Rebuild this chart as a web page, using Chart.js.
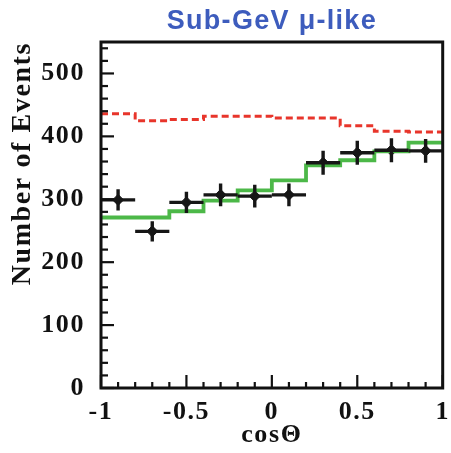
<!DOCTYPE html>
<html><head><meta charset="utf-8">
<script src="https://cdn.jsdelivr.net/npm/chart.js@4/dist/chart.umd.min.js"></script>
<style>html,body{margin:0;padding:0;background:#fff;}#wrap{width:451px;height:453px;position:relative;}</style>
</head><body><div id="wrap"><canvas id="c" width="451" height="453" style="width:451px;height:453px"></canvas></div>
<script>
const chartTitle = 'Sub-GeV \u03bc-like';
const binEdges = [-1, -0.8, -0.6, -0.4, -0.2, 0, 0.2, 0.4, 0.6, 0.8, 1];
const dataEvents = [299, 249, 295, 307, 305, 307, 358, 374, 378, 377];
const dataErrors = [17, 16, 17, 18, 18, 18, 19, 19, 19, 19];
const mcOscillated = [271, 271, 281, 298, 314, 330, 354, 362, 376, 390];
const mcNoOscillation = [436, 425, 427, 432, 432, 429, 429, 417, 408, 407];
const yTickValues = [0, 100, 200, 300, 400, 500];
const xTickValues = [-1, -0.5, 0, 0.5, 1];
const yMinorTicks = [0,20,40,60,80,100,120,140,160,180,200,220,240,260,280,300,320,340,360,380,400,420,440,460,480,500,520,540];
const xMinorTicks = [-1,-0.9,-0.8,-0.7,-0.6,-0.5,-0.4,-0.3,-0.2,-0.1,0,0.1,0.2,0.3,0.4,0.5,0.6,0.7,0.8,0.9,1];

function stepPoints(vals) {
  const pts = [];
  vals.forEach((v, i) => { pts.push({x: binEdges[i], y: v}); pts.push({x: binEdges[i + 1], y: v}); });
  return pts;
}
const centers = dataEvents.map((v, i) => ({x: (binEdges[i] + binEdges[i + 1]) / 2, y: v, err: dataErrors[i], lo: binEdges[i], hi: binEdges[i + 1]}));

const spacing = {
  id: 'spacing',
  beforeLayout(chart) { chart.ctx.letterSpacing = '1.6px'; },
  beforeDraw(chart) { chart.ctx.letterSpacing = '1.6px'; }
};

const errorBars = {
  id: 'errorBars',
  afterDatasetsDraw(chart) {
    const {ctx, scales: {x, y}} = chart;
    ctx.save();
    ctx.setLineDash([]);
    ctx.strokeStyle = '#161616';
    ctx.lineWidth = 3.4;
    centers.forEach(p => {
      ctx.beginPath();
      ctx.moveTo(x.getPixelForValue(p.lo), y.getPixelForValue(p.y));
      ctx.lineTo(x.getPixelForValue(p.hi), y.getPixelForValue(p.y));
      ctx.moveTo(x.getPixelForValue(p.x), y.getPixelForValue(p.y - p.err));
      ctx.lineTo(x.getPixelForValue(p.x), y.getPixelForValue(p.y + p.err));
      ctx.stroke();
    });
    ctx.restore();
  }
};

const frame = {
  id: 'frame',
  afterDraw(chart) {
    const ctx = chart.ctx, a = chart.chartArea, x = chart.scales.x, y = chart.scales.y;
    ctx.save();
    ctx.setLineDash([]);
    ctx.strokeStyle = '#111111';
    ctx.lineWidth = 2.2;
    yMinorTicks.forEach(v => {
      const py = y.getPixelForValue(v);
      const len = yTickValues.includes(v) ? 13 : 7;
      ctx.beginPath(); ctx.moveTo(a.left, py); ctx.lineTo(a.left + len, py); ctx.stroke();
    });
    xMinorTicks.forEach(v => {
      const px = x.getPixelForValue(v);
      const len = xTickValues.includes(v) ? 13 : 6;
      ctx.beginPath(); ctx.moveTo(px, a.bottom); ctx.lineTo(px, a.bottom - len); ctx.stroke();
    });
    ctx.lineWidth = 3;
    ctx.strokeRect(a.left, a.top, a.right - a.left, a.bottom - a.top);
    ctx.fillStyle = '#3d5cbd';
    ctx.font = "bold 27px 'Liberation Sans', Arial, sans-serif";
    ctx.textAlign = 'center';
    ctx.textBaseline = 'middle';
    ctx.letterSpacing = '1.3px';
    ctx.fillText(chartTitle, (a.left + a.right) / 2, 22);
    ctx.restore();
  }
};

const serif = "'Liberation Serif', 'Times New Roman', serif";
new Chart(document.getElementById('c'), {
  data: {
    datasets: [
      {type: 'line', data: stepPoints(mcNoOscillation), borderColor: '#e8352b', borderWidth: 3, borderDash: [7, 4], pointRadius: 0, fill: false},
      {type: 'line', data: stepPoints(mcOscillated), borderColor: '#4cb848', borderWidth: 3.8, pointRadius: 0, fill: false},
      {type: 'scatter', data: centers, pointStyle: 'rectRot', pointRadius: 5.5, backgroundColor: '#161616', borderColor: '#161616', borderWidth: 1}
    ]
  },
  options: {
    responsive: false,
    animation: false,
    devicePixelRatio: 1,
    layout: {padding: {left: 0, right: 8, top: 42, bottom: 0}},
    plugins: {
      legend: {display: false},
      tooltip: {enabled: false},
      title: {display: false}
    },
    scales: {
      x: {
        type: 'linear', min: -1, max: 1,
        grid: {display: false}, border: {display: false},
        afterBuildTicks: s => { s.ticks = xTickValues.map(v => ({value: v})); },
        afterFit: s => { s.height = 65; },
        ticks: {color: '#111', font: {family: serif, size: 26, weight: 'bold'}, padding: 1, maxRotation: 0, autoSkip: false, callback: v => String(v)},
        title: {display: true, text: 'cos\u0398', color: '#111', font: {family: serif, size: 26, weight: 'bold'}, padding: {top: 0, bottom: 2}}
      },
      y: {
        type: 'linear', min: 0, max: 550,
        grid: {display: false}, border: {display: false},
        afterBuildTicks: s => { s.ticks = yTickValues.map(v => ({value: v})); },
        afterFit: s => { s.width = 101; },
        ticks: {color: '#111', font: {family: serif, size: 26, weight: 'bold'}, padding: 8, callback: v => String(v)},
        title: {display: true, text: 'Number of Events', align: 'end', color: '#111', font: {family: serif, size: 28, weight: 'bold'}, padding: {top: 6, bottom: 0}}
      }
    }
  },
  plugins: [spacing, errorBars, frame]
});
</script>
</body></html>
